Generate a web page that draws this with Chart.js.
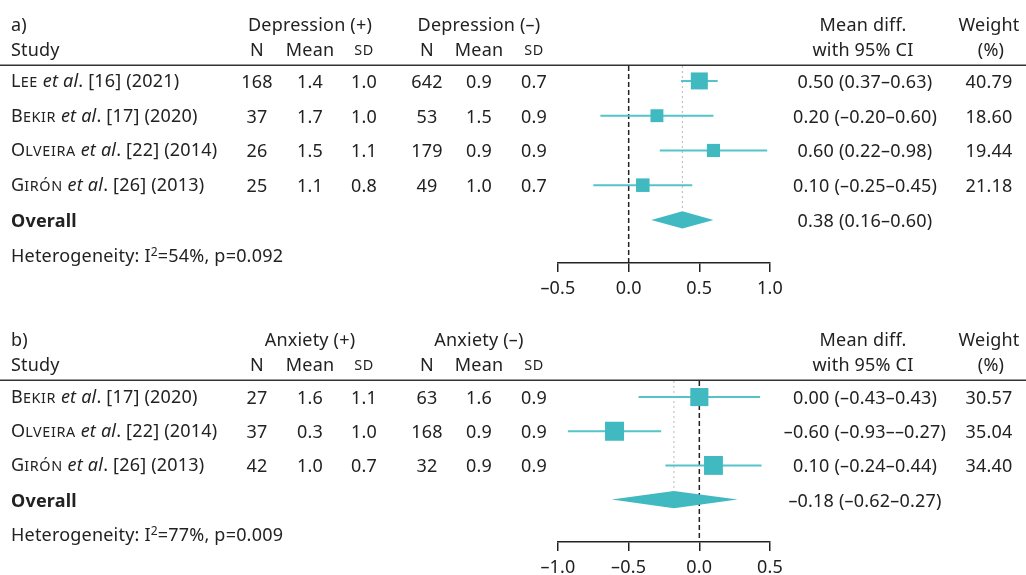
<!DOCTYPE html>
<html>
<head>
<meta charset="utf-8">
<script src="https://cdn.jsdelivr.net/npm/chart.js@4.4.1/dist/chart.umd.min.js"></script>
<style>
  body { margin: 0; background: #fff; overflow: hidden; }
  #wrap { position: relative; width: 1026px; height: 575px; font-family: "Noto Sans", sans-serif; font-size: 18px; letter-spacing: 0.2px; color: #222; }
  canvas { position: absolute; left: 0; }
  .t { position: absolute; white-space: nowrap; line-height: 20px; transform: translate(-50%, -50%); }
  .t.l { transform: translate(0, -50%); }
  .sc { text-transform: uppercase; font-size: 0.8em; letter-spacing: 0.6px; }
  sup { font-size: 12px; line-height: 0; vertical-align: 6px; }
</style>
</head>
<body>
<div id="wrap">
  <canvas id="chartA" width="1026" height="300" style="top:0"></canvas>
  <canvas id="chartB" width="1026" height="260" style="top:315px"></canvas>
</div>
<script>
// a) depression
const studiesA = ["Lee", "Bekir", "Olveira", "Girón"];
const refsA = [16, 17, 22, 26];
const yearsA = [2021, 2020, 2014, 2013];
const nPosA = [168, 37, 26, 25];
const meanPosA = [1.4, 1.7, 1.5, 1.1];
const sdPosA = [1.0, 1.0, 1.1, 0.8];
const nNegA = [642, 53, 179, 49];
const meanNegA = [0.9, 1.5, 0.9, 1.0];
const sdNegA = [0.7, 0.9, 0.9, 0.7];
const mdA = [0.50, 0.20, 0.60, 0.10];
const loA = [0.37, -0.20, 0.22, -0.25];
const hiA = [0.63, 0.60, 0.98, 0.45];
const weightA = [40.79, 18.60, 19.44, 21.18];
const overallA = [0.38, 0.16, 0.60];
const hetA = ["54", "0.092"];
const ticksA = [-0.5, 0.0, 0.5, 1.0];

// b) anxiety
const studiesB = ["Bekir", "Olveira", "Girón"];
const refsB = [17, 22, 26];
const yearsB = [2020, 2014, 2013];
const nPosB = [27, 37, 42];
const meanPosB = [1.6, 0.3, 1.0];
const sdPosB = [1.1, 1.0, 0.7];
const nNegB = [63, 168, 32];
const meanNegB = [1.6, 0.9, 0.9];
const sdNegB = [0.9, 0.9, 0.9];
const mdB = [0.00, -0.60, 0.10];
const loB = [-0.43, -0.93, -0.24];
const hiB = [0.43, -0.27, 0.44];
const weightB = [30.57, 35.04, 34.40];
const overallB = [-0.18, -0.62, 0.27];
const hetB = ["77", "0.009"];
const ticksB = [-1.0, -0.5, 0.0, 0.5];

const teal = "#40b9c1";
const ink = "#222";
const FONT = "'Noto Sans', sans-serif";
const wrap = document.getElementById("wrap");

// column x positions
const col = { study: 11, nPos: 257, meanPos: 310, sdPos: 364, nNeg: 427, meanNeg: 479, sdNeg: 534, ci: 865, w: 989 };

function dash(s) { return s.replace(/-/g, "–"); }

// surname in small caps: first letter full size, the rest as small capitals
function smallCaps(s) { return s[0] + '<span class="sc">' + s.slice(1) + '</span>'; }

function put(html, x, y, left, bold) {
  const d = document.createElement("div");
  d.className = left ? "t l" : "t";
  d.style.left = x + "px";
  d.style.top = y + "px";
  if (bold) d.style.fontWeight = "bold";
  d.innerHTML = html;
  wrap.appendChild(d);
}

const headerRule = {
  id: "headerRule",
  beforeDatasetsDraw(chart) {
    const ctx = chart.ctx;
    const y = chart.chartArea.top - 0.75;
    ctx.save();
    ctx.strokeStyle = "#333";
    ctx.lineWidth = 1.5;
    ctx.beginPath();
    ctx.moveTo(0, y);
    ctx.lineTo(chart.width, y);
    ctx.stroke();
    ctx.restore();
  }
};

function buildPanel(p) {
  const k = p.studies.length; // row of the overall estimate
  const maxW = Math.max(...p.weight);
  const ds = [];

  ds.push({
    type: "line",
    data: [{ x: 0, y: p.yMin }, { x: 0, y: p.yMax }],
    borderColor: ink, borderWidth: 1.5, borderDash: [5, 3], pointRadius: 0, order: 9
  });
  ds.push({
    type: "line",
    data: [{ x: p.overall[0], y: p.yMin }, { x: p.overall[0], y: k - 0.25 }],
    borderColor: "#b8b8b8", borderWidth: 1, borderDash: [2, 3], pointRadius: 0, order: 8
  });
  p.studies.forEach((s, i) => {
    ds.push({
      type: "line",
      data: [{ x: p.lo[i], y: i }, { x: p.hi[i], y: i }],
      borderColor: "#55c3c9", borderWidth: 2, pointRadius: 0, order: 5
    });
  });
  ds.push({
    type: "line",
    data: [
      { x: p.overall[1], y: k },
      { x: p.overall[0], y: k - 0.25 },
      { x: p.overall[2], y: k },
      { x: p.overall[0], y: k + 0.25 },
      { x: p.overall[1], y: k }
    ],
    fill: "shape", backgroundColor: teal, borderWidth: 0, pointRadius: 0, tension: 0, order: 3
  });
  ds.push({
    type: "scatter",
    data: p.md.map((m, i) => ({ x: m, y: i })),
    pointStyle: "rect",
    backgroundColor: teal,
    borderWidth: 0,
    pointRadius: p.weight.map(w => p.maxSide * Math.pow(w / maxW, 0.35) / Math.SQRT2),
    order: 1
  });

  const chart = new Chart(document.getElementById(p.canvas), {
    type: "scatter",
    data: { datasets: ds },
    options: {
      responsive: false,
      animation: false,
      events: [],
      layout: { padding: { left: 558, right: 256, top: 66, bottom: 0 } },
      plugins: { legend: { display: false }, tooltip: { enabled: false } },
      scales: {
        x: {
          type: "linear",
          min: p.ticks[0],
          max: p.ticks[p.ticks.length - 1],
          afterBuildTicks: s => { s.ticks = p.ticks.map(v => ({ value: v })); },
          afterFit: s => { s.height = p.axisH; s.paddingLeft = 0; s.paddingRight = 0; },
          grid: { drawOnChartArea: false, tickLength: 9, color: ink, lineWidth: 1.5 },
          border: { color: ink, width: 1.5 },
          ticks: {
            color: ink,
            font: { family: FONT, size: 18 },
            padding: 6,
            maxRotation: 0,
            autoSkip: false,
            callback: v => dash(v.toFixed(1))
          }
        },
        y: { type: "linear", reverse: true, min: p.yMin, max: p.yMax, display: false }
      }
    },
    plugins: [headerRule]
  });

  // table text
  const top = p.top;
  const h1 = top + 23.5, h2 = top + 49;
  put(p.label, col.study, h1, true);
  put(p.group + " (+)", col.meanPos, h1);
  put(p.group + " (–)", col.meanNeg, h1);
  put("Mean diff.", col.ci - 2, h1);
  put("Weight", col.w, h1);
  put("Study", col.study, h2, true);
  put("N", col.nPos, h2);
  put("Mean", col.meanPos, h2);
  put('<span class="sc">sd</span>', col.sdPos, h2);
  put("N", col.nNeg, h2);
  put("Mean", col.meanNeg, h2);
  put('<span class="sc">sd</span>', col.sdNeg, h2);
  put("with 95% CI", col.ci - 2, h2);
  put("(%)", col.w + 2, h2);

  const ys = chart.scales.y;
  p.studies.forEach((s, i) => {
    const y = top + ys.getPixelForValue(i);
    put(smallCaps(s) + ' <i>et al</i>. [' + p.refs[i] + '] (' + p.years[i] + ')', col.study, y, true);
    put(String(p.nPos[i]), col.nPos, y);
    put(p.meanPos[i].toFixed(1), col.meanPos, y);
    put(p.sdPos[i].toFixed(1), col.sdPos, y);
    put(String(p.nNeg[i]), col.nNeg, y);
    put(p.meanNeg[i].toFixed(1), col.meanNeg, y);
    put(p.sdNeg[i].toFixed(1), col.sdNeg, y);
    put(dash(p.md[i].toFixed(2) + " (" + p.lo[i].toFixed(2) + "–" + p.hi[i].toFixed(2) + ")"), col.ci, y);
    put(p.weight[i].toFixed(2), col.w, y);
  });
  const yo = top + ys.getPixelForValue(k);
  put("Overall", col.study, yo, true, true);
  put(dash(p.overall[0].toFixed(2) + " (" + p.overall[1].toFixed(2) + "–" + p.overall[2].toFixed(2) + ")"), col.ci, yo);
  const yh = top + ys.getPixelForValue(k + 1);
  put("Heterogeneity: I<sup>2</sup>=" + p.het[0] + "%, p=" + p.het[1], col.study, yh, true);
  return chart;
}

buildPanel({
  canvas: "chartA", top: 0, label: "a)", group: "Depression",
  studies: studiesA, refs: refsA, years: yearsA,
  nPos: nPosA, meanPos: meanPosA, sdPos: sdPosA,
  nNeg: nNegA, meanNeg: meanNegA, sdNeg: sdNegA,
  md: mdA, lo: loA, hi: hiA, weight: weightA,
  overall: overallA, het: hetA, ticks: ticksA,
  yMin: -0.43, yMax: 5.24, axisH: 37, maxSide: 17
});

buildPanel({
  canvas: "chartB", top: 315, label: "b)", group: "Anxiety",
  studies: studiesB, refs: refsB, years: yearsB,
  nPos: nPosB, meanPos: meanPosB, sdPos: sdPosB,
  nNeg: nNegB, meanNeg: meanNegB, sdNeg: sdNegB,
  md: mdB, lo: loB, hi: hiB, weight: weightB,
  overall: overallB, het: hetB, ticks: ticksB,
  yMin: -0.47, yMax: 4.24, axisH: 33, maxSide: 19
});
</script>
</body>
</html>
